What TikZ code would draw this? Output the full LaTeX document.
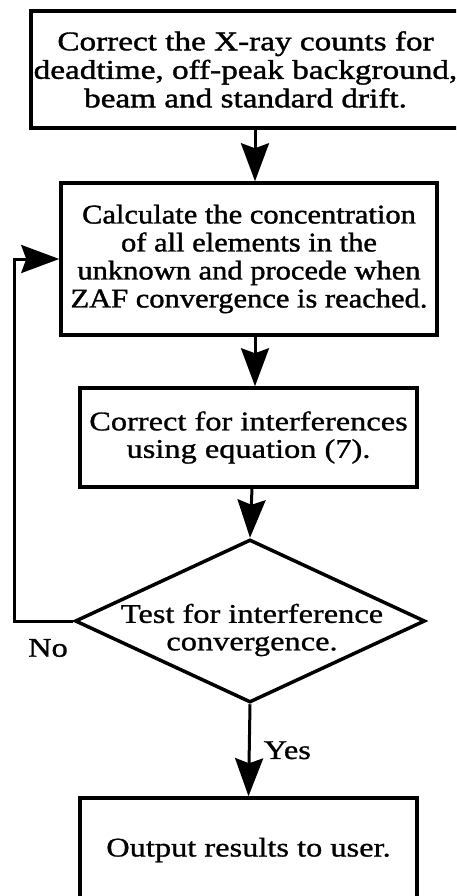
\documentclass[tikz,border=0pt]{standalone}
\usepackage{fontspec}
\setmainfont{Liberation Serif}
\newfontfamily\fA{Liberation Serif}[FakeStretch=1.23, FakeBold=1.4]
\newfontfamily\fB{Liberation Serif}[FakeStretch=1.13, FakeBold=1.4]
\newfontfamily\fC{Liberation Serif}[FakeStretch=1.2, FakeBold=1.0]
\usetikzlibrary{arrows.meta,shapes.geometric}
\begin{document}
\begin{tikzpicture}[x=1pt,y=-1pt,
  txt/.style={align=center, inner sep=0pt, font=\fC\fontsize{27}{27.5}\selectfont},
  box/.style={txt, draw, line width=3.5pt},
  arr/.style={line width=3pt, line join=miter, -{Stealth[length=38pt,width=28pt,inset=5pt]}},
  lbl/.style={inner sep=0pt, font=\fC\fontsize{27}{28}\selectfont}]
\useasboundingbox (0,0) rectangle (456,896);
\clip (0,0) rectangle (456,896);
\node[box, font=\fA\fontsize{27}{28.5}\selectfont, minimum width=429pt, minimum height=117pt] (b1) at (245.5,69.5)
  {Correct the X-ray counts for\\deadtime, off-peak background,\\beam and standard drift.};
\node[box, font=\fB\fontsize{27}{28}\selectfont, minimum width=376pt, minimum height=152pt] (b2) at (249,259)
  {Calculate the concentration\\of all elements in the\\unknown and procede when\\ZAF convergence is reached.};
\node[box, minimum width=337pt, minimum height=99pt] (b3) at (248.5,437.5)
  {Correct for interferences\\using equation (7).};
\node[draw, diamond, line width=3.5pt, minimum width=350pt, minimum height=163pt, inner sep=0pt] (d) at (250,621) {};
\node[txt] (dt) at (252,630) {Test for interference\\convergence.};
\node[box, minimum width=337pt, minimum height=104pt] (b4) at (248.5,850)
  {Output results to user.};
\node[lbl] (no) at (48,648) {No};
\coordinate (ax1) at (255,0);
\coordinate (ax2) at (252,0);
\coordinate (fb) at (14,0);
\draw[arr] (b1.south -| ax1) -- (b2.north -| ax1);
\draw[arr] (b2.south -| ax1) -- (b3.north -| ax1);
\draw[arr] (b3.south -| ax2) -- (d.north);
\draw[arr] (d.south) -- (b4.north) node[pos=0.5, anchor=west, xshift=13pt, lbl] (yes) {Yes};
\draw[arr] (d.west) -| (fb |- b2.west) -- (b2.west);
\end{tikzpicture}
\end{document}
